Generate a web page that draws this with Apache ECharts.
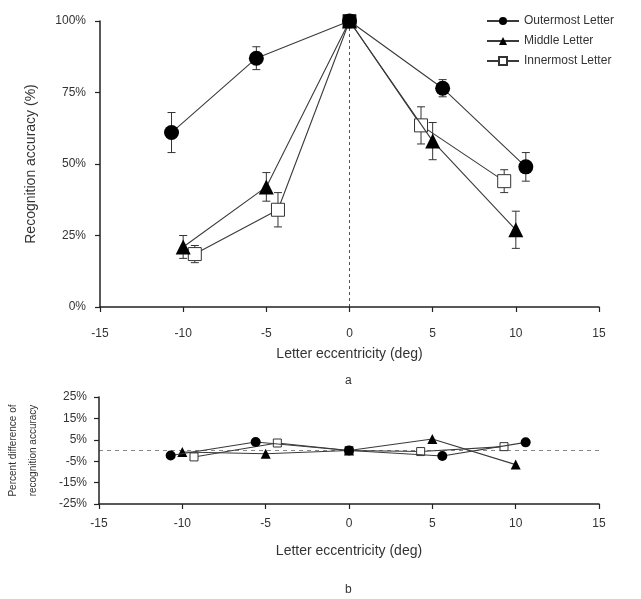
<!DOCTYPE html>
<html><head><meta charset="utf-8">
<script src="https://cdn.jsdelivr.net/npm/echarts@6/dist/echarts.min.js"></script>
<style>html,body{margin:0;padding:0;background:#fff}#c{width:641px;height:599px}</style>
</head><body><div id="c"></div>
<script>
// ---- data ----
var seriesNames = ['Outermost Letter', 'Middle Letter', 'Innermost Letter'];
var xOuter  = [-10.7, -5.6, 0, 5.6, 10.6];
var xMiddle = [-10, -5, 0, 5, 10];
var xInner  = [-9.3, -4.3, 0, 4.3, 9.3];
// panel a: recognition accuracy (%)
var accOuter  = [61, 87, 100, 76.5, 49];
var accMiddle = [21, 42, 100, 58, 27];
var accInner  = [18.5, 34, 100, 63.5, 44];
// error bar half-widths (%)
var errOuter  = [7, 4, 0, 3, 5];
var errMiddle = [4, 5, 0, 6.5, 6.5];
var errInner  = [3, 6, 0, 6.5, 4];
// panel b: percent difference of recognition accuracy
var diffOuter  = [-2.3, 4, 0, -2.6, 3.8];
var diffMiddle = [-0.7, -1.5, 0, 5.4, -6.6];
var diffInner  = [-3, 3.5, 0, -0.5, 1.8];
// tick labels
var xTicks = [-15, -10, -5, 0, 5, 10, 15];
var accTicks = [0, 25, 50, 75, 100];
var diffTicks = [-25, -15, -5, 5, 15, 25];

var FONT = 'Liberation Sans, Arial, sans-serif';
var TXT = '#333';

function pairs(xs, ys) { return xs.map(function (x, i) { return [x, ys[i]]; }); }
function errData(xs, ys, es) { return xs.map(function (x, i) { return [x, ys[i] - es[i], ys[i] + es[i]]; }); }

function errSeries(xs, ys, es) {
  return {
    type: 'custom', xAxisIndex: 0, yAxisIndex: 0, z: 1, silent: true,
    data: errData(xs, ys, es),
    renderItem: function (params, api) {
      var x = api.value(0);
      var lo = api.coord([x, api.value(1)]);
      var hi = api.coord([x, api.value(2)]);
      if (Math.abs(hi[1] - lo[1]) < 1) return null;
      var w = 4;
      var st = { stroke: '#333', lineWidth: 1 };
      return { type: 'group', children: [
        { type: 'line', shape: { x1: lo[0], y1: lo[1], x2: hi[0], y2: hi[1] }, style: st },
        { type: 'line', shape: { x1: lo[0] - w, y1: lo[1], x2: lo[0] + w, y2: lo[1] }, style: st },
        { type: 'line', shape: { x1: hi[0] - w, y1: hi[1], x2: hi[0] + w, y2: hi[1] }, style: st }
      ]};
    }
  };
}

var symbols = ['circle', 'triangle', 'rect'];
var fills = ['#000', '#000', '#fff'];

function lineSeries(idx, xs, ys, gi, size) {
  var data = pairs(xs, ys).map(function (p) {
    if (idx === 2 && p[0] === 0) return { value: p, itemStyle: { color: '#000' } };
    return p;
  });
  return {
    name: seriesNames[idx], type: 'line', xAxisIndex: gi, yAxisIndex: gi,
    data: data, symbol: symbols[idx], symbolSize: idx === 2 ? size - 2 : size,
    showAllSymbol: true, z: 3 - idx + 2,
    lineStyle: { color: '#3a3a3a', width: 1.1 },
    itemStyle: { color: fills[idx], borderColor: '#333', borderWidth: idx === 2 ? 1 : 0 },
    emphasis: { disabled: true }, animation: false
  };
}

var xAxisCommon = function (gi, margin, nameGap) {
  return {
    gridIndex: gi, type: 'value', min: -15, max: 15, interval: 5,
    name: 'Letter eccentricity (deg)', nameLocation: 'middle', nameGap: nameGap,
    nameTextStyle: { fontFamily: FONT, fontSize: 14, color: TXT },
    axisLine: { show: true, onZero: false, lineStyle: { color: '#222', width: 1.5 } },
    axisTick: { show: true, inside: false, length: 5, lineStyle: { color: '#222', width: 1.2 },
      customValues: xTicks },
    axisLabel: { fontFamily: FONT, fontSize: 12, color: TXT, margin: margin, customValues: xTicks },
    splitLine: { show: false }
  };
};

var option = {
  animation: false,
  backgroundColor: '#fff',
  grid: [
    { left: 100, right: 42, top: 21, height: 286, outerBoundsMode: 'none', containLabel: false },
    { left: 99, right: 42, top: 397, height: 107, outerBoundsMode: 'none', containLabel: false }
  ],
  legend: {
    orient: 'vertical', left: 481, top: 10, itemGap: 8,
    itemWidth: 32, itemHeight: 10,
    textStyle: { fontFamily: FONT, fontSize: 12, color: TXT },
    data: seriesNames
  },
  xAxis: [xAxisCommon(0, 21, 40), xAxisCommon(1, 14, 40)],
  yAxis: [
    {
      gridIndex: 0, type: 'value', min: 0, max: 100, interval: 25,
      name: 'Recognition accuracy (%)', nameLocation: 'middle', nameGap: 62,
      nameTextStyle: { fontFamily: FONT, fontSize: 14, color: TXT },
      axisLine: { show: true, onZero: false, lineStyle: { color: '#222', width: 1.5 } },
      axisTick: { show: true, length: 5, lineStyle: { color: '#222', width: 1.2 } },
      axisLabel: { fontFamily: FONT, fontSize: 12, color: TXT, margin: 14,
        formatter: function (v) { return v + '%'; } },
      splitLine: { show: false }
    },
    {
      gridIndex: 1, type: 'value', min: -25, max: 25, interval: 10,
      name: 'Percent difference of\nrecognition accuracy', nameLocation: 'middle', nameGap: 56,
      nameTextStyle: { fontFamily: FONT, fontSize: 10, color: TXT, lineHeight: 20 },
      axisLine: { show: true, onZero: false, lineStyle: { color: '#222', width: 1.5 } },
      axisTick: { show: true, length: 5, lineStyle: { color: '#222', width: 1.2 } },
      axisLabel: { fontFamily: FONT, fontSize: 12, color: TXT, margin: 12,
        formatter: function (v) { return v + '%'; } },
      splitLine: { show: false }
    }
  ],
  graphic: [
    { type: 'text', left: 345, top: 375, style: { text: 'a', fontFamily: FONT, fontSize: 12, fill: TXT } },
    { type: 'text', left: 345, top: 584, style: { text: 'b', fontFamily: FONT, fontSize: 12, fill: TXT } }
  ],
  series: [
    errSeries(xOuter, accOuter, errOuter),
    errSeries(xMiddle, accMiddle, errMiddle),
    errSeries(xInner, accInner, errInner),
    (function () {
      var s = lineSeries(0, xOuter, accOuter, 0, 15);
      s.markLine = { silent: true, symbol: ['none', 'none'], label: { show: false },
        lineStyle: { color: '#555', type: [3, 3], width: 1 }, data: [{ xAxis: 0 }], z: 0 };
      return s;
    })(),
    lineSeries(1, xMiddle, accMiddle, 0, 15),
    lineSeries(2, xInner, accInner, 0, 15),
    (function () {
      var s = lineSeries(0, xOuter, diffOuter, 1, 10);
      s.markLine = { silent: true, symbol: ['none', 'none'], label: { show: false },
        lineStyle: { color: '#888', type: [4, 4], width: 1 }, data: [{ yAxis: 0 }], z: 0 };
      return s;
    })(),
    lineSeries(1, xMiddle, diffMiddle, 1, 10),
    lineSeries(2, xInner, diffInner, 1, 10)
  ]
};
var chart = echarts.init(document.getElementById('c'), null, { renderer: 'canvas' });
chart.setOption(option);
</script></body></html>
